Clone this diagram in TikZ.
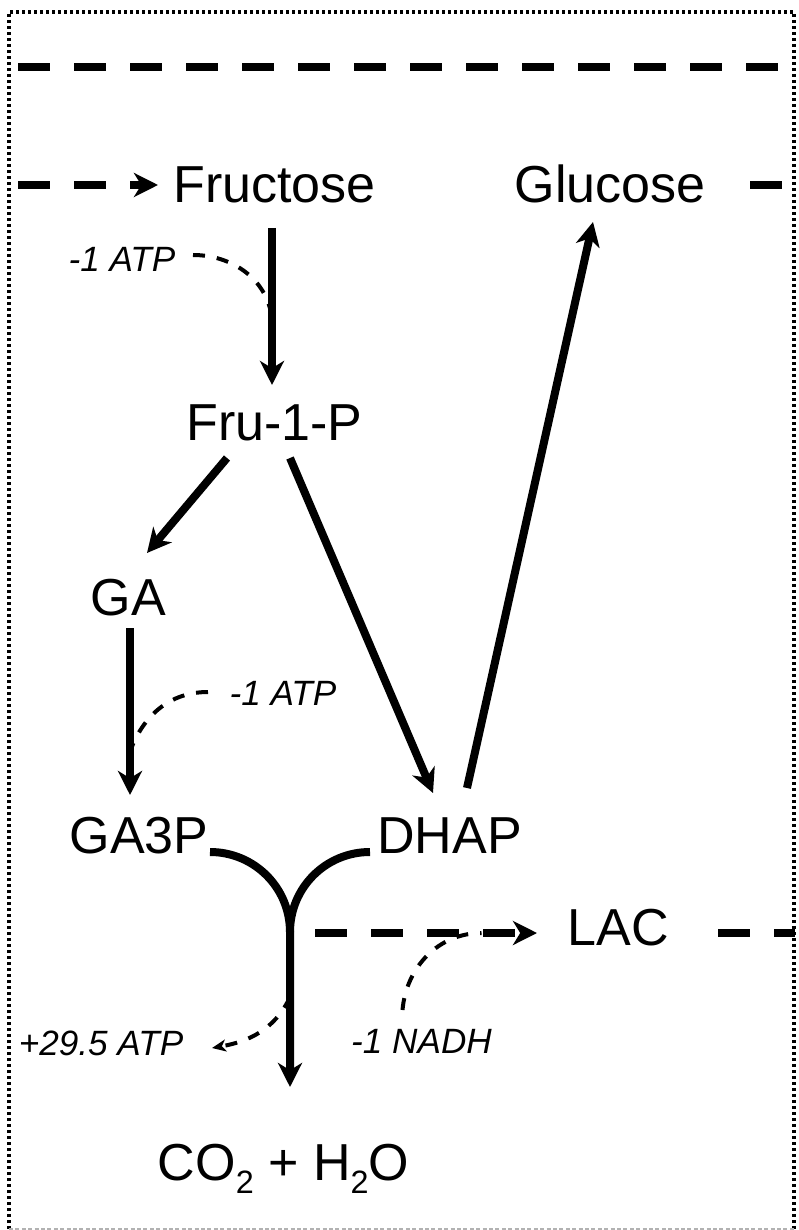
\documentclass[tikz,border=0pt]{standalone}
\usepackage{fontspec}
\setmainfont{Liberation Sans}
\usetikzlibrary{calc}
\usetikzlibrary{arrows.meta}
\tikzset{>={Stealth[length=6mm,width=6mm,inset=1.8mm]}}
\tikzset{met/.style={anchor=base, inner sep=0pt, font=\fontsize{37}{44}\selectfont}}
\tikzset{cof/.style={anchor=base, inner sep=0pt, font=\fontsize{25}{30}\selectfont\itshape}}
\tikzset{flux/.style={->, line width=2mm}}
\tikzset{trans/.style={line width=2mm, dash pattern=on 8mm off 6mm}}
\tikzset{cost/.style={line width=1mm, dash pattern=on 3mm off 3mm}}
\tikzset{costtip/.style={-{Stealth[length=3.5mm,width=3mm,inset=1mm]}}}
\tikzset{frame/.style={line width=1mm, dash pattern=on 0.85mm off 0.65mm}}
\newcommand{\chemsub}[1]{\raisebox{-3.25mm}{\fontsize{23}{26}\selectfont #1}}

\begin{document}
\begin{tikzpicture}[x=0.25mm, y=0.25mm]
        \useasboundingbox (0,0) rectangle (798,-1230);
        \draw[frame] (9,-1229) -- (9,-12) -- (794,-12) -- (794,-1229);
        \draw[gray!60, line width=0.3mm, dash pattern=on 1mm off 0.6mm] (9,-1229) -- (794,-1229);

        \node[met] (fru) at (274.5,-203) {Fructose};
        \node[met] (glc) at (610,-203) {Glucose};
        \node[met] (f1p) at (274.5,-440) {Fru-1-P};
        \node[met] (ga) at (128.5,-615) {GA};
        \node[met] (g3p) at (139,-853) {GA3P};
        \node[met] (dhap) at (449.5,-853) {DHAP};
        \node[met] (lac) at (618.5,-945) {LAC};
        \node[met] (co2) at (283.5,-1180) {CO\chemsub{2} + H\chemsub{2}O};

        \node[cof] (atp1) at (122,-272) {-1 ATP};
        \node[cof] (atp2) at (283,-705) {-1 ATP};
        \node[cof] (atp3) at (101,-1055) {+29.5 ATP};
        \node[cof] (nadh) at (421.5,-1053) {-1 NADH};

        \coordinate (tl) at (18,-67);
        \coordinate (tr) at (794,-67);
        \coordinate (wl) at (18,-185);
        \coordinate (wr) at (794,-185);
        \coordinate (lr) at (795,-933);
        \coordinate (j) at (290,-932);

        \draw[trans] (tl) -- (tr);
        \draw[trans, ->] (wl) -- ($(fru.base)+(-116.5,18)$);
        \draw[trans] ($(glc.base)+(140,18)$) -- (wr);

        \draw[flux] ($(fru.base)+(-2.5,-25)$) -- coordinate[pos=0.586] (k1) ($(f1p.base)+(-2.5,55)$);
        \draw[flux] ($(f1p.base)+(-47.5,-18)$) -- ($(ga.base)+(18.5,62)$);
        \draw[flux] ($(f1p.base)+(15.5,-18)$) -- ($(dhap.base)+(-16.5,60)$);
        \draw[flux] ($(dhap.base)+(17.5,65)$) -- ($(glc.base)+(-17,-19)$);
        \draw[flux] ($(ga.base)+(1.5,-13)$) -- coordinate[pos=0.74] (k2) ($(g3p.base)+(-9,58)$);

        \draw[flux] ($(g3p.base)+(71,1)$) to[out=0, in=90] (j)
         -- coordinate[pos=0.42] (k3) ($(co2.base)+(6.5,93)$);
        \draw[flux, -] ($(dhap.base)+(-79.5,1)$) to[out=180, in=90] (j);

        \draw[trans, ->] ($(j)+(25,-1)$) -- coordinate[pos=0.75] (k4) ($(lac.base)+(-81.5,12)$);
        \draw[trans] ($(lac.base)+(99.5,12)$) -- (lr);

        \draw[cost] ($(atp1.base)+(71,17)$) to[out=0, in=95] (k1);
        \draw[cost] ($(atp2.base)+(-75,13)$) to[out=180, in=70] (k2);
        \draw[cost, costtip] (k3) to[out=-115, in=10] ($(atp3.base)+(111,7)$);
        \draw[cost] ($(nadh.base)+(-19,43)$) to[out=85, in=180] (k4);
    \end{tikzpicture}
\end{document}
